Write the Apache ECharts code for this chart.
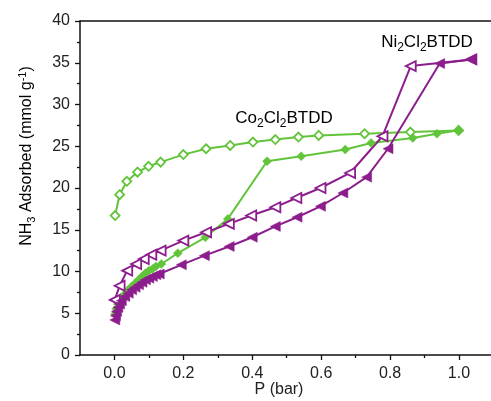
<!DOCTYPE html>
<html>
<head>
<meta charset="utf-8">
<script src="https://cdn.jsdelivr.net/npm/echarts@6/dist/echarts.min.js"></script>
<style>
html, body { margin: 0; padding: 0; background: #fff; }
#chart { width: 491px; height: 401px; }
</style>
</head>
<body>
<div id="chart"></div>
<script>
// Co2Cl2BTDD 吸附 (实心菱形)
var coAdsP = [0.002, 0.005, 0.01, 0.02, 0.03, 0.04, 0.05, 0.06, 0.07, 0.08, 0.09, 0.10, 0.11, 0.12, 0.136, 0.184, 0.264, 0.329, 0.443, 0.542, 0.670, 0.745, 0.866, 0.936, 0.999];
var coAdsV = [4.9, 5.5, 6.1, 6.8, 7.3, 7.8, 8.2, 8.6, 9.0, 9.4, 9.8, 10.1, 10.3, 10.6, 10.9, 12.2, 14.1, 16.3, 23.2, 23.8, 24.6, 25.4, 26.0, 26.5, 26.9];
// Co2Cl2BTDD 脱附 (空心菱形)
var coDesP = [0.999, 0.859, 0.726, 0.593, 0.534, 0.467, 0.402, 0.336, 0.266, 0.200, 0.134, 0.099, 0.067, 0.036, 0.015, 0.002];
var coDesV = [26.9, 26.7, 26.5, 26.3, 26.1, 25.8, 25.5, 25.1, 24.7, 24.0, 23.1, 22.6, 21.9, 20.8, 19.2, 16.7];
// Ni2Cl2BTDD 吸附 (实心三角)
var niAdsP = [0.001, 0.003, 0.006, 0.01, 0.015, 0.02, 0.03, 0.04, 0.05, 0.06, 0.07, 0.08, 0.09, 0.10, 0.11, 0.12, 0.13, 0.194, 0.261, 0.333, 0.400, 0.467, 0.530, 0.598, 0.663, 0.732, 0.794, 0.944, 1.036];
var niAdsV = [4.2, 4.7, 5.2, 5.7, 6.1, 6.5, 7.0, 7.4, 7.8, 8.1, 8.4, 8.7, 9.0, 9.2, 9.4, 9.6, 9.7, 10.8, 11.9, 13.0, 14.1, 15.4, 16.5, 17.8, 19.4, 21.3, 24.7, 34.9, 35.4];
// Ni2Cl2BTDD 脱附 (空心三角)
var niDesP = [1.036, 0.860, 0.778, 0.684, 0.598, 0.528, 0.467, 0.397, 0.332, 0.266, 0.200, 0.134, 0.107, 0.085, 0.063, 0.037, 0.015, 0.001];
var niDesV = [35.4, 34.6, 26.2, 21.8, 20.0, 18.8, 17.7, 16.7, 15.7, 14.7, 13.7, 12.5, 12.0, 11.5, 10.9, 10.1, 8.3, 6.6];
// 坐标轴刻度
var xMajor = [0, 0.2, 0.4, 0.6, 0.8, 1.0];
var xMinor = [0.1, 0.3, 0.5, 0.7, 0.9];

var green = '#62c43a';
var purple = '#8c1d8c';
var font = "'Liberation Sans', Arial, sans-serif";

function pairs(p, v) {
    var res = [];
    for (var i = 0; i < p.length; i++) {
        res.push([p[i], v[i]]);
    }
    return res;
}

function makeSeries(p, v, color, symbol, open, rotate) {
    return {
        type: 'line',
        data: pairs(p, v),
        symbol: symbol,
        symbolSize: symbol === 'diamond' ? 9 : 10,
        symbolRotate: rotate,
        showAllSymbol: true,
        lineStyle: {color: color, width: 2},
        itemStyle: {
            color: open ? '#fff' : color,
            borderColor: color,
            borderWidth: open ? 1.8 : 0.5
        },
        emphasis: {disabled: true},
        animation: false
    };
}

var chart = echarts.init(document.getElementById('chart'));

var option = {
    animation: false,
    grid: {left: 80, top: 21, right: 0, bottom: 46},
    xAxis: [
        {
            type: 'value',
            min: -0.1,
            max: 1.093,
            position: 'bottom',
            splitLine: {show: false},
            axisLine: {onZero: false, lineStyle: {color: '#111', width: 1.5}},
            axisTick: {customValues: xMajor, length: 5, lineStyle: {color: '#111', width: 1.3}},
            axisLabel: {
                customValues: xMajor,
                color: '#222',
                fontSize: 16,
                fontFamily: font,
                margin: 11,
                formatter: function (v) { return v.toFixed(1); }
            }
        },
        {
            type: 'value',
            min: -0.1,
            max: 1.093,
            position: 'bottom',
            splitLine: {show: false},
            axisLine: {show: false, onZero: false},
            axisTick: {customValues: xMinor, length: 3, lineStyle: {color: '#111', width: 1.3}},
            axisLabel: {show: false}
        },
        {
            type: 'value',
            min: -0.1,
            max: 1.093,
            position: 'top',
            splitLine: {show: false},
            axisLine: {onZero: false, lineStyle: {color: '#111', width: 1.5}},
            axisTick: {show: false},
            axisLabel: {show: false}
        }
    ],
    yAxis: {
        type: 'value',
        min: 0,
        max: 40,
        interval: 5,
        splitLine: {show: false},
        axisLine: {show: true, onZero: false, lineStyle: {color: '#111', width: 1.5}},
        axisTick: {show: true, length: 5, lineStyle: {color: '#111', width: 1.3}},
        minorTick: {show: true, splitNumber: 2, length: 3, lineStyle: {color: '#111', width: 1.3}},
        axisLabel: {color: '#222', fontSize: 16, fontFamily: font, margin: 10}
    },
    graphic: [
        {
            type: 'text',
            x: 279, y: 390,
            style: {text: 'P (bar)', font: '16px ' + font, fill: '#222', align: 'center', verticalAlign: 'middle'}
        },
        {
            type: 'text',
            x: 27, y: 156,
            rotation: Math.PI / 2,
            style: {
                text: '{n|NH}{s|3}{n| Adsorbed (mmol g}{p|-1}{n|)}',
                align: 'center',
                verticalAlign: 'middle',
                rich: {
                    n: {fontSize: 16, fontFamily: font, color: '#222'},
                    s: {fontSize: 11, fontFamily: font, color: '#222', padding: [10, 0, 0, 0]},
                    p: {fontSize: 11, fontFamily: font, color: '#222', padding: [0, 0, 9, 0]}
                }
            }
        },
        {
            type: 'text',
            x: 284, y: 118,
            style: {
                text: '{n|Co}{s|2}{n|Cl}{s|2}{n|BTDD}',
                align: 'center',
                verticalAlign: 'middle',
                rich: {
                    n: {fontSize: 17, fontFamily: font, color: '#222'},
                    s: {fontSize: 12, fontFamily: font, color: '#222', padding: [11, 0, 0, 0]}
                }
            }
        },
        {
            type: 'text',
            x: 427, y: 42,
            style: {
                text: '{n|Ni}{s|2}{n|Cl}{s|2}{n|BTDD}',
                align: 'center',
                verticalAlign: 'middle',
                rich: {
                    n: {fontSize: 17, fontFamily: font, color: '#222'},
                    s: {fontSize: 12, fontFamily: font, color: '#222', padding: [11, 0, 0, 0]}
                }
            }
        }
    ],
    series: [
        makeSeries(coDesP, coDesV, green, 'diamond', true, 0),
        makeSeries(coAdsP, coAdsV, green, 'diamond', false, 0),
        makeSeries(niDesP, niDesV, purple, 'triangle', true, 90),
        makeSeries(niAdsP, niAdsV, purple, 'triangle', false, 90)
    ]
};

chart.setOption(option);
</script>
</body>
</html>
